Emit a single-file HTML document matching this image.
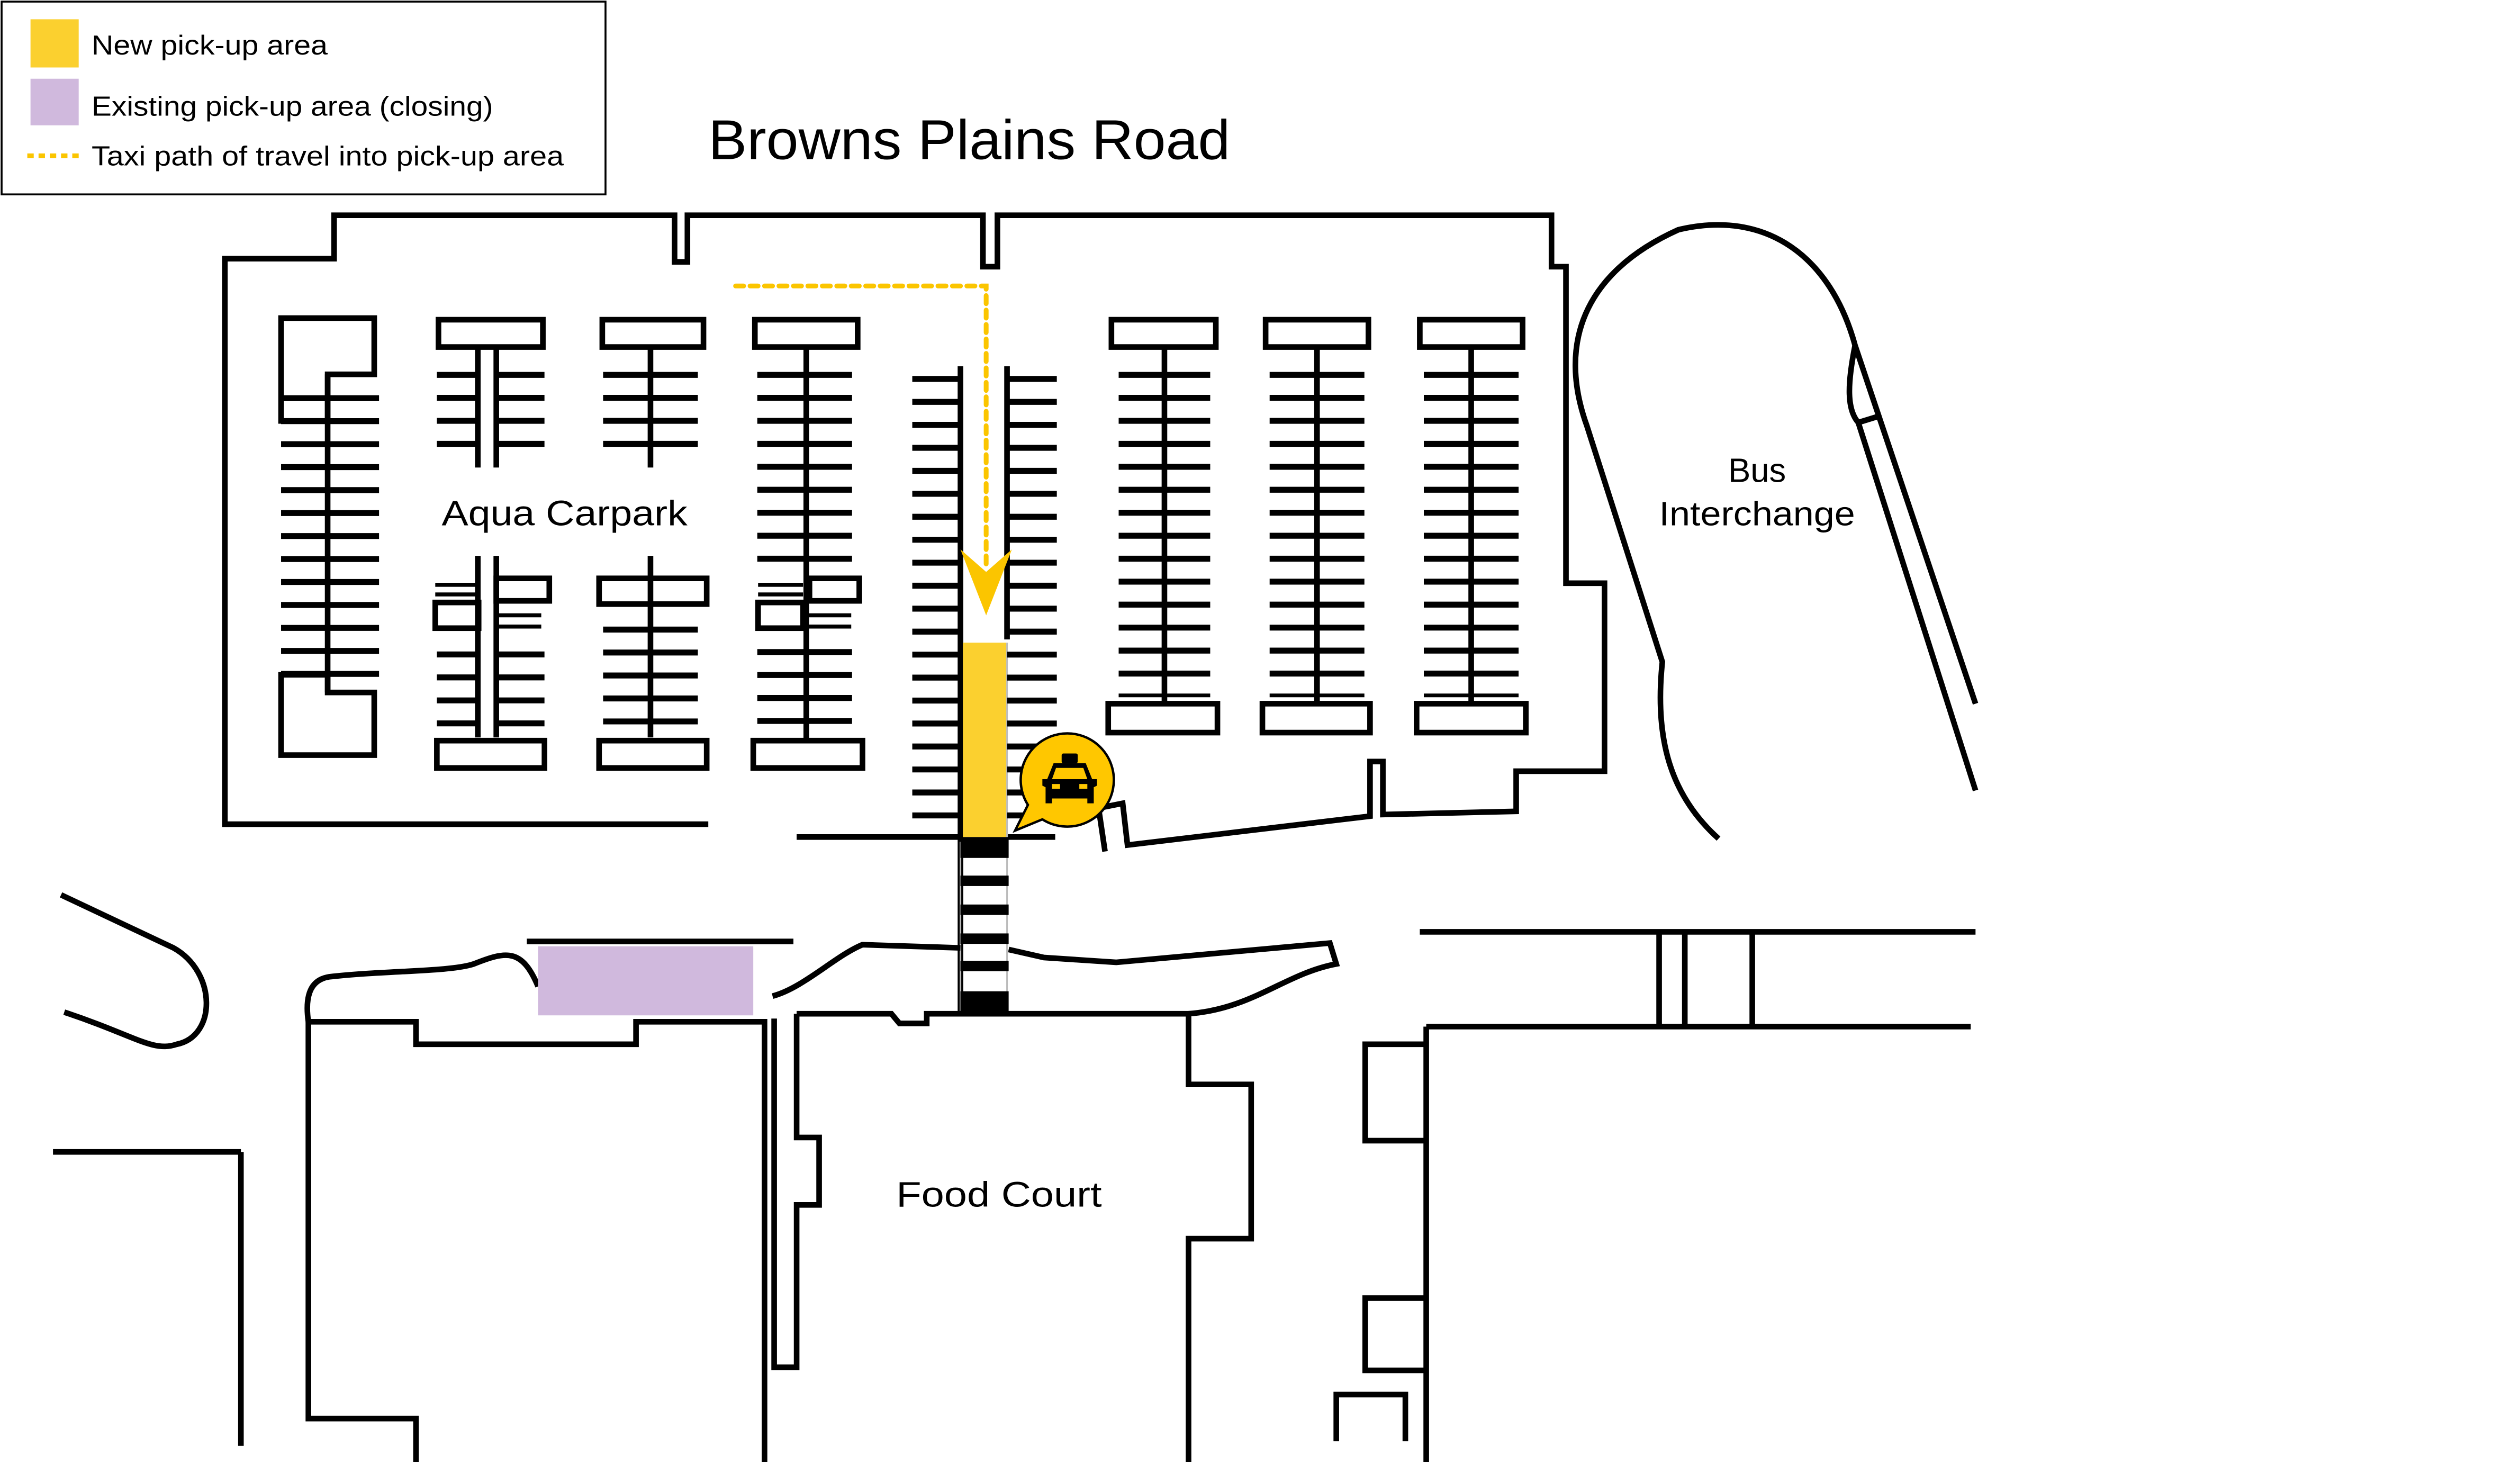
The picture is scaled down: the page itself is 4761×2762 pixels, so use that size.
<!DOCTYPE html>
<html><head><meta charset="utf-8"><style>
html,body{margin:0;padding:0;background:#fff;}
svg{display:block;}
text{font-family:"Liberation Sans",sans-serif;fill:#000;}
</style></head><body>
<svg width="4761" height="2762" viewBox="0 0 1569 910" preserveAspectRatio="none" xmlns="http://www.w3.org/2000/svg">
<rect width="1570" height="912" fill="#fff"/>
<rect x="1" y="1" width="376" height="120" fill="#fff" stroke="#000" stroke-width="1.2"/>
<rect x="19" y="12" width="30" height="30" fill="#FBD02F"/>
<rect x="19" y="49" width="30" height="29" fill="#D0B9DD"/>
<line x1="17" y1="97" x2="51" y2="97" stroke="#FBC500" stroke-width="3" stroke-dasharray="4 3"/>
<text x="57" y="34" font-size="17" textLength="147" lengthAdjust="spacingAndGlyphs">New pick-up area</text>
<text x="57" y="72" font-size="17" textLength="250" lengthAdjust="spacingAndGlyphs">Existing pick-up area (closing)</text>
<text x="57" y="103" font-size="17" textLength="294" lengthAdjust="spacingAndGlyphs">Taxi path of travel into pick-up area</text>
<text x="441" y="99" font-size="35" textLength="325" lengthAdjust="spacingAndGlyphs">Browns Plains Road</text>

<g fill="none" stroke="#000" stroke-width="3.5">
<path d="M441,513 L140,513 L140,161 L208,161 L208,134 L420,134 L420,163 L428,163 L428,134 L612,134 L612,166 L621,166 L621,134 L966,134 L966,166 L975,166 L975,363 L999,363 L999,480 L944,480 L944,505 L861,507 L861,474 L853,474 L853,508 L702,526 L699,500 L684,503 L688,530"/>
<line x1="496" y1="521" x2="598" y2="521"/>
<line x1="627" y1="521" x2="657" y2="521"/>
<line x1="598" y1="228" x2="598" y2="631"/>
<line x1="627" y1="228" x2="627" y2="398"/>
<line x1="627" y1="400" x2="627" y2="631" stroke-width="1" stroke="#bbb"/>
<line x1="598" y1="524" x2="598" y2="631" stroke-width="1" stroke="#bbb"/>

<path d="M175,198 L233,198 L233,233 L204,233 L204,262 L175,262 Z"/>
<path d="M175,420 L204,420 L204,431 L233,431 L233,470 L175,470 Z"/>
<line x1="204" y1="233" x2="204" y2="431"/>
<rect x="273" y="199" width="65" height="17"/>
<line x1="297.5" y1="216" x2="297.5" y2="291"/><line x1="309" y1="216" x2="309" y2="291"/>
<line x1="297.5" y1="346" x2="297.5" y2="459"/><line x1="309" y1="346" x2="309" y2="459"/>
<rect x="272" y="461" width="67" height="17"/>
<rect x="309" y="360" width="33" height="14"/>
<rect x="271" y="375" width="27" height="16"/>
<rect x="375" y="199" width="63" height="17"/>
<line x1="405" y1="216" x2="405" y2="291"/>
<line x1="405" y1="346" x2="405" y2="459"/>
<rect x="373" y="360" width="67" height="16"/>
<rect x="373" y="461" width="67" height="17"/>
<rect x="470" y="199" width="64" height="17"/>
<line x1="502" y1="216" x2="502" y2="461"/>
<rect x="504" y="360" width="31" height="14"/>
<rect x="472" y="375" width="28" height="16"/>
<rect x="469" y="461" width="68" height="17"/>
<rect x="692" y="199" width="65" height="17"/><line x1="725" y1="216" x2="725" y2="438"/><rect x="690" y="438" width="68" height="18"/>
<rect x="788" y="199" width="64" height="17"/><line x1="820" y1="216" x2="820" y2="438"/><rect x="786" y="438" width="67" height="18"/>
<rect x="884" y="199" width="64" height="17"/><line x1="916" y1="216" x2="916" y2="438"/><rect x="882" y="438" width="68" height="18"/>
</g>

<g fill="none" stroke="#000" stroke-dasharray="3.7 10.6">
<line x1="205.5" y1="246" x2="205.5" y2="428" stroke-width="61"/>
<line x1="284.5" y1="231.5" x2="284.5" y2="285" stroke-width="25"/>
<line x1="324" y1="231.5" x2="324" y2="285" stroke-width="30"/>
<line x1="284.5" y1="405.5" x2="284.5" y2="458" stroke-width="25"/>
<line x1="324" y1="405.5" x2="324" y2="458" stroke-width="30"/>
<line x1="405" y1="231.5" x2="405" y2="285" stroke-width="59"/>
<line x1="405" y1="390" x2="405" y2="458" stroke-width="59"/>
<line x1="501" y1="231.5" x2="501" y2="358" stroke-width="59"/>
<line x1="501" y1="404" x2="501" y2="458" stroke-width="59"/>
<line x1="583" y1="234" x2="583" y2="515" stroke-width="30"/>
<line x1="642.5" y1="234" x2="642.5" y2="515" stroke-width="31"/>
<line x1="725" y1="231.5" x2="725" y2="434" stroke-width="57"/>
<line x1="820" y1="231.5" x2="820" y2="434" stroke-width="59"/>
<line x1="916" y1="231.5" x2="916" y2="434" stroke-width="59"/>
</g>
<g stroke="#000" stroke-width="2.5">
<line x1="271" y1="364" x2="297" y2="364"/><line x1="271" y1="370" x2="297" y2="370"/>
<line x1="309" y1="383" x2="337" y2="383"/><line x1="309" y1="390" x2="337" y2="390"/>
<line x1="472" y1="364" x2="500" y2="364"/><line x1="472" y1="370" x2="500" y2="370"/>
<line x1="502" y1="383" x2="530" y2="383"/><line x1="502" y1="390" x2="530" y2="390"/>
</g>

<rect x="599.5" y="400" width="27" height="121" fill="#FBD02F"/>
<path d="M458,178 L614,178 L614,352" fill="none" stroke="#FBC500" stroke-width="3" stroke-dasharray="5 4" stroke-linecap="round"/>
<polygon points="598,342 614,356 630,342 614,383" fill="#FBC500"/>
<g fill="#000">
<rect x="598" y="521" width="30" height="13"/>
<rect x="598" y="545" width="30" height="6.5"/>
<rect x="598" y="563" width="30" height="6.5"/>
<rect x="598" y="581" width="30" height="6.5"/>
<rect x="598" y="598" width="30" height="6.5"/>
<rect x="598" y="617" width="30" height="14"/>
</g>
<path d="M640,501 A29,29 0 1 1 649,510 L632,517 Z" fill="#FFC700" stroke="#000" stroke-width="1.5"/>
<g fill="#000">
<rect x="661" y="469" width="10" height="6" rx="1"/>
<path d="M656,475 L676,475 L680,485 L683,485 L683,489 L681,490 L681,500 L677,500 L677,497 L655,497 L655,500 L651,500 L651,490 L649,489 L649,485 L652,485 Z"/>
</g>
<path d="M657.5,478 L674.5,478 L677,485 L655,485 Z" fill="#FFC700"/>
<rect x="655" y="488" width="5" height="3" fill="#FFC700"/>
<rect x="672" y="488" width="5" height="3" fill="#FFC700"/>

<g fill="none" stroke="#000" stroke-width="3.5">
<path d="M1070,522 C1040,495 1030,460 1035,412 L988,265 C970,215 985,170 1045,143 C1100,130 1140,160 1155,215 L1230,438"/>
<path d="M1155,215 C1150,240 1150,255 1157,263 L1230,492"/>
<line x1="1157" y1="263" x2="1170" y2="259"/>
<path d="M38,557 L108,590 C135,605 135,645 110,650 C95,655 85,645 40,630"/>
<line x1="328" y1="586" x2="494" y2="586"/>
<line x1="33" y1="717" x2="150" y2="717"/>
<line x1="150" y1="717" x2="150" y2="900"/>
<path d="M335,614 C325,590 315,592 295,600 C280,605 240,604 205,608 C192,610 190,622 192,636 L259,636 L259,650 L396,650 L396,636 L476,636 L476,912"/>
<path d="M192,636 L192,883 L259,883 L259,912"/>
<path d="M481,620 C500,615 520,595 537,588 L598,590"/>
<path d="M628,591 L650,596 L695,599 L828,587 L832,600 C800,606 780,628 740,631"/>
<path d="M496,631 L555,631 L560,637 L577,637 L577,631 L740,631 L740,675 L779,675 L779,771 L740,771 L740,912"/>
<path d="M482,634 L482,851 L496,851 L496,750 L510,750 L510,708 L496,708 L496,631"/>
<line x1="884" y1="580" x2="1230" y2="580"/>
<line x1="888" y1="639" x2="1227" y2="639"/>
<line x1="1033" y1="580" x2="1033" y2="639"/>
<line x1="1049" y1="580" x2="1049" y2="639"/>
<line x1="1091" y1="580" x2="1091" y2="639"/>
<line x1="888" y1="639" x2="888" y2="912"/>
<path d="M888,650 L850,650 L850,710 L888,710"/>
<path d="M888,808 L850,808 L850,853 L888,853"/>
<path d="M832,897 L832,868 L875,868 L875,897"/>
</g>
<rect x="335" y="589" width="134" height="43" fill="#D0B9DD"/>

<text x="275" y="327" font-size="22" textLength="153" lengthAdjust="spacingAndGlyphs">Aqua Carpark</text>
<text x="558" y="751" font-size="22" textLength="128" lengthAdjust="spacingAndGlyphs">Food Court</text>
<text x="1076" y="300" font-size="21" textLength="36" lengthAdjust="spacingAndGlyphs">Bus</text>
<text x="1033" y="327" font-size="21" textLength="122" lengthAdjust="spacingAndGlyphs">Interchange</text>
</svg>
</body></html>
